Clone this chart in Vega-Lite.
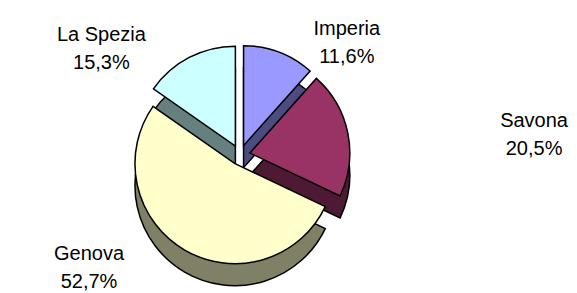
{
  "$schema": "https://vega.github.io/schema/vega-lite/v6.json",
  "width": 480,
  "height": 276,
  "autosize": {"type": "none"},
  "padding": {"left": 0, "right": 97, "top": 17, "bottom": 0},
  "background": "white",
  "view": {"stroke": null},
  "data": {
    "values": [
      {"region": "Imperia", "value": 11.6, "order": 1, "label": "Imperia\n11,6%"},
      {"region": "Savona", "value": 20.5, "order": 2, "label": "Savona\n20,5%"},
      {"region": "Genova", "value": 52.7, "order": 3, "label": "Genova\n52,7%"},
      {"region": "La Spezia", "value": 15.3, "order": 4, "label": "La Spezia\n15,3%"}
    ]
  },
  "encoding": {
    "theta": {"field": "value", "type": "quantitative", "stack": true},
    "order": {"field": "order", "type": "quantitative"}
  },
  "layer": [
    {
      "mark": {
        "type": "arc",
        "radius": 100,
        "stroke": "black",
        "strokeWidth": 1.5,
        "xOffset": {"expr": "10*sin(PI*(datum.value_start+datum.value_end)/100.1)"},
        "yOffset": {"expr": "22 - 10*cos(PI*(datum.value_start+datum.value_end)/100.1)"}
      },
      "encoding": {
        "color": {
          "field": "region",
          "type": "nominal",
          "scale": {
            "domain": ["Imperia", "Savona", "Genova", "La Spezia"],
            "range": ["#4c4c80", "#4d1933", "#808066", "#668080"]
          },
          "legend": null
        }
      }
    },
    {
      "mark": {
        "type": "arc",
        "radius": 100,
        "stroke": "black",
        "strokeWidth": 1.5,
        "xOffset": {"expr": "10*sin(PI*(datum.value_start+datum.value_end)/100.1)"},
        "yOffset": {"expr": "-10*cos(PI*(datum.value_start+datum.value_end)/100.1)"}
      },
      "encoding": {
        "color": {
          "field": "region",
          "type": "nominal",
          "scale": {
            "domain": ["Imperia", "Savona", "Genova", "La Spezia"],
            "range": ["#9999ff", "#993366", "#ffffcc", "#ccffff"]
          },
          "legend": null
        }
      }
    },
    {
      "mark": {
        "type": "text",
        "radius": 125,
        "lineBreak": "\n",
        "lineHeight": 28,
        "font": "Liberation Sans",
        "fontSize": 20,
        "color": "black",
        "align": "center",
        "baseline": "middle",
        "xOffset": {"expr": "175*sin(PI*(datum.value_start+datum.value_end)/100.1)"},
        "yOffset": -9
      },
      "encoding": {
        "text": {"field": "label", "type": "nominal"}
      }
    }
  ],
  "resolve": {"scale": {"color": "independent"}}
}
